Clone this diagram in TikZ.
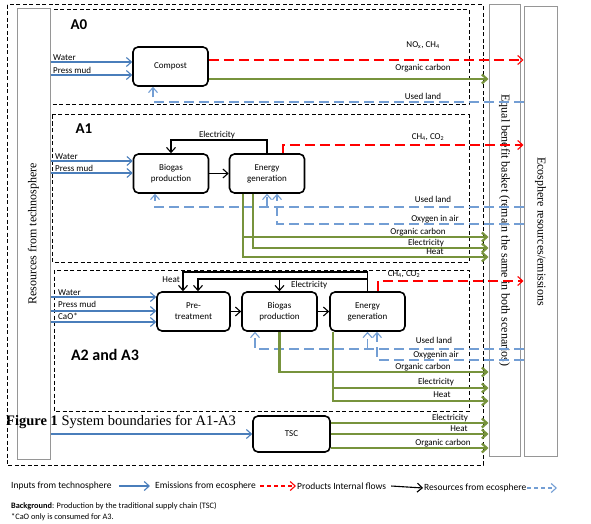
\documentclass[tikz,border=0pt]{standalone}
\usepackage{fontspec}
\setmainfont{Liberation Serif}
\setsansfont{Carlito}
\usetikzlibrary{arrows.meta}

\definecolor{inblue}{RGB}{74,126,187}
\definecolor{resblue}{RGB}{115,158,212}
\definecolor{prodgreen}{RGB}{119,147,60}
\definecolor{sidegray}{RGB}{150,150,150}

\begin{document}
\begin{tikzpicture}[x=1pt,y=-1pt,>={Straight Barb[length=5pt,width=9pt]},
  every node/.style={font=\sffamily\fontsize{9}{11}\selectfont,inner sep=1pt},
  proc/.style={draw,line width=1.6pt,rounded corners=5pt,fill=white,align=center,
    minimum width=75pt,minimum height=39pt,inner sep=0pt},
  side/.style={draw=sidegray,line width=1pt},
  sidetext/.style={font=\rmfamily\fontsize{12}{14}\selectfont},
  big/.style={font=\sffamily\bfseries\fontsize{15}{17}\selectfont},
  legend/.style={anchor=west,font=\sffamily\fontsize{9.5}{11}\selectfont},
  frame/.style={line width=1pt,dash pattern=on 4pt off 2.5pt},
  inp/.style={->,draw=inblue,line width=1.1pt},
  emis/.style={->,draw=red,line width=1.1pt,dash pattern=on 10pt off 5pt},
  prod/.style={->,draw=prodgreen,line width=2.2pt},
  flow/.style={->,line width=1.1pt},
  res/.style={->,draw=resblue,line width=1.1pt,dash pattern=on 10pt off 5pt}]
  \useasboundingbox (0,0) rectangle (591,524);
  % boundaries
  \draw[frame] (7,5) rectangle (483,465);
  \draw[frame] (50,10) rectangle (469,105);
  \draw[frame] (52,115) rectangle (469,262);
  \draw[frame] (54,270) rectangle (469,411);
  \node[side,minimum width=33pt,minimum height=450pt] (RT) at (33.5,234) {};
  \node[side,minimum width=31pt,minimum height=451pt] (EB) at (504.5,230.5) {};
  \node[side,minimum width=33pt,minimum height=449pt] (ES) at (540.5,231.5) {};
  \node[sidetext,rotate=90] (RTt) at (RT) {Resources from technosphere};
  \node[sidetext,rotate=-90] (EBt) at (EB) {Equal benefit basket (remain the same in both scenarios)};
  \node[sidetext,rotate=-90] (ESt) at (ES) {Ecosphere resources/emissions};
  % A0
  \node[big] (A0) at (79,25) {A0};
  \node[proc] (C0) at (170.5,66.5) {Compost};
  \draw[inp] (RT.east |- 0,62) -- (C0.west |- 0,62);
  \draw[inp] (RT.east |- 0,75) -- (C0.west |- 0,75);
  \node[anchor=south west] (w0) at (52,62) {Water};
  \node[anchor=south west] (m0) at (52,75) {Press mud};
  \draw[emis] (C0.east |- 0,60) -- (ES.west |- 0,60);
  \node (e0) at (423,45) {NO\textsubscript{x}, CH\textsubscript{4}};
  \draw[prod] (C0.east |- 0,79) -- (EB.west |- 0,79);
  \node (o0) at (423,68) {Organic carbon};
  \draw[res] (ES.west |- 0,102) -| (C0.south -| 153,0);
  \node (u0) at (423,96) {Used land};
  % A1
  \node[big] (A1) at (84,129) {A1};
  \node[proc] (B1) at (171,173.5) {Biogas\\production};
  \node[proc] (G1) at (267,173.5) {Energy\\generation};
  \draw[inp] (RT.east |- 0,161) -- (B1.west |- 0,161);
  \draw[inp] (RT.east |- 0,173) -- (B1.west |- 0,173);
  \node[anchor=south west] (w1) at (54,161) {Water};
  \node[anchor=south west] (m1) at (54,173) {Press mud};
  \draw[flow] (B1) -- (G1);
  \draw[flow] (G1.north) |- (B1.north |- 0,140) -- (B1.north);
  \node (el1) at (217,135) {Electricity};
  \draw[emis] (G1.north -| 283,0) |- (ES.west |- 0,145);
  \node (e1) at (428,137) {CH\textsubscript{4}, CO\textsubscript{2}};
  \draw[res] (ES.west |- 0,207) -| (B1.south -| 155,0);
  \draw[res] (G1.south |- 0,207) -- (G1.south);
  \draw[res] (ES.west |- 0,224) -| (G1.south -| 277,0);
  \node (u1) at (433,199) {Used land};
  \node (x1) at (435,219) {Oxygen in air};
  \draw[prod] (G1.south -| 243,0) |- (EB.west |- 0,237);
  \draw[prod] (G1.south -| 243,0) |- (EB.west |- 0,257);
  \draw[prod] (G1.south -| 253,0) |- (EB.west |- 0,248);
  \node (o1) at (418,232) {Organic carbon};
  \node (c1) at (426,243) {Electricity};
  \node (h1) at (435,252) {Heat};
  % A2 and A3
  \node[big,font=\sffamily\bfseries\fontsize{16}{18}\selectfont] (A2) at (105,355) {A2 and A3};
  \node[proc,minimum width=73pt] (P2) at (193.5,311.5) {Pre-\\treatment};
  \node[proc] (B2) at (279.5,311.5) {Biogas\\production};
  \node[proc] (G2) at (367.5,311.5) {Energy\\generation};
  \draw[inp] (RT.east |- 0,297) -- (P2.west |- 0,297);
  \draw[inp] (RT.east |- 0,311) -- (P2.west |- 0,311);
  \draw[inp] (RT.east |- 0,322) -- (P2.west |- 0,322);
  \node[anchor=south west] (w2) at (57,297) {Water};
  \node[anchor=south west] (m2) at (57,309) {Press mud};
  \node[anchor=south west] (k2) at (57,321) {CaO*};
  \draw[flow] (P2) -- (B2);
  \draw[flow] (B2) -- (G2);
  \draw[flow] (G2.north) |- (183,272) -- (P2.north -| 183,0);
  \draw[flow] (G2.north |- 0,279) -| (P2.north -| 198,0);
  \draw[flow] (B2.north |- 0,279) -- (B2.north);
  \node[anchor=east] (h2l) at (181,280) {Heat};
  \node[anchor=west] (el2) at (290,285) {Electricity};
  \draw[emis] (G2.north -| 378,0) |- (ES.west |- 0,281);
  \node (e2) at (404,274) {CH\textsubscript{4}, CO\textsubscript{2}};
  \draw[res] (ES.west |- 0,349) -| (B2.south -| 255,0);
  \draw[res] (G2.south |- 0,349) -- (G2.south);
  \draw[res] (ES.west |- 0,360) -| (G2.south -| 377,0);
  \node (u2) at (434,340) {Used land};
  \node (x2) at (436,355) {Oxygenin air};
  \draw[prod] (B2.south) |- (EB.west |- 0,372);
  \draw[prod] (G2.south -| 333,0) |- (EB.west |- 0,388);
  \draw[prod] (G2.south -| 333,0) |- (EB.west |- 0,401);
  \node (o2) at (423,367) {Organic carbon};
  \node (c2) at (436,382) {Electricity};
  \node (h2) at (442,395) {Heat};
  % background supply chain
  \node[anchor=west,font=\rmfamily\fontsize{14.5}{16}\selectfont] (fig) at (5,422) {\textbf{Figure 1} System boundaries for A1-A3};
  \node[proc,minimum width=77pt,minimum height=36pt] (T) at (291.5,434) {TSC};
  \draw[inp] (RT.east |- T.west) -- (T.west);
  \draw[prod] (T.east |- 0,423) -- (EB.west |- 0,423);
  \draw[prod] (T.east |- 0,434) -- (EB.west |- 0,434);
  \draw[prod] (T.east |- 0,448) -- (EB.west |- 0,448);
  \node (c3) at (450,418) {Electricity};
  \node (h3) at (459,429) {Heat};
  \node (o3) at (443,443) {Organic carbon};
  % legend
  \node[legend] (L1) at (10,486) {Inputs from technosphere};
  \node[legend] (L2) at (154,486) {Emissions from ecosphere};
  \node[legend] (L3) at (296,486) {Products Internal flows};
  \node[legend] (L4) at (423,488) {Resources from ecosphere};
  \coordinate (L5) at (557,488);
  \draw[inp] ([xshift=6pt]L1.east) -- ([xshift=-4pt]L2.west);
  \draw[emis,dash pattern=on 4pt off 3pt] ([xshift=3pt]L2.east) -- (L3.west);
  \draw[flow] ([xshift=4pt]L3.east) -- (L4.west);
  \draw[res,dash pattern=on 4pt off 3pt] (L4.east) -- (L5);
  \node[anchor=west,font=\sffamily\fontsize{8.3}{10}\selectfont] (bg) at (10,506) {\textbf{Background}: Production by the traditional supply chain (TSC)};
  \node[anchor=west,font=\sffamily\fontsize{8.3}{10}\selectfont] (nt) at (10,517) {*CaO only is consumed for A3.};
\end{tikzpicture}
\end{document}
